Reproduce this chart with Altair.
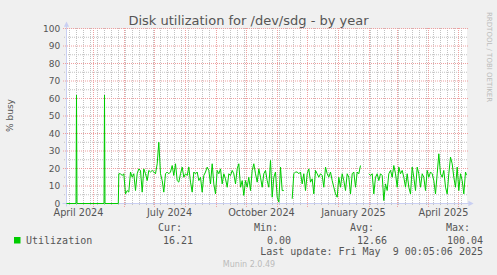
import altair as alt
import pandas as pd

# ---------------- data ----------------
START = "2024-04-04 00:05:06"   # left edge of the 400-day window
END = "2025-05-09 00:05:06"     # last update / right edge

# day offset from START, and % busy (None = gap in the data)
day = [
    0, 9.5, 10, 10.5, 37.5, 38, 38.5, 51.8,
    52.3, 54, 55.7, 57.3, 59, 60.7, 62.3, 64, 65.7, 67.3, 69, 70.7, 72.3, 74, 75.7, 77.3,
    79, 80.7, 82.3, 84, 85.7, 87.3, 89, 90.7, 92.3, 94, 95.7, 97.3, 99, 100.7, 102.3, 104,
    105.7, 107.3, 109, 110.7, 112.3, 114, 115.7, 117.3, 119, 120.7, 122.3, 124, 125.7, 127.3,
    129, 130.7, 132.3, 134, 135.7, 137.3, 139, 140.7, 142.3,
    144, 145.7, 147.3, 149, 150.7, 152.3, 154, 155.7, 157.3, 159, 160.7, 162.3, 164, 165.7,
    167.3, 169, 170.7, 172.3, 174, 175.7, 177.3, 179, 180.7, 182.3, 184, 185.7, 187.3, 189,
    190.7, 192.3, 194, 195.7, 197.3, 199, 200.7, 202.3, 204, 205.7, 207.3, 209, 210.7, 212.3,
    214, 215.7, 217.3,
    218,
    225.7, 227.3, 229, 230.7, 232.3, 234, 235.7, 237.3, 239, 240.7, 242.3, 244, 245.7, 247.3,
    249, 250.7, 252.3, 254, 255.7, 257.3, 259, 260.7, 262.3, 264, 265.7, 267.3, 269, 270.7,
    272.3, 274, 275.7, 277.3, 279, 280.7, 282.3, 284, 285.7, 287.3, 289, 290.7, 292.3, 294,
    298,
    302.3, 304, 305.7, 307.3, 309, 310.7, 312.3, 314, 315.7, 317.3, 319, 320.7, 322.3, 324,
    325.7, 327.3, 329, 330.7, 332.3, 334, 335.7, 337.3, 339, 340.7, 342.3, 344, 345.7, 347.3,
    349, 350.7, 352.3, 354, 355.7, 357.3, 359, 360.7, 362.3, 364, 365.7, 367.3, 369, 370.7,
    372.3, 374, 375.7, 377.3, 379, 380.7, 382.3, 384, 385.7, 387.3, 389, 390.7, 392.3, 394,
    395.7, 397.3, 399, 400,
]
util = [
    0, 0, 62, 0, 0, 62, 0, 0,
    17, 17, 16, 17, 5.5, 7.4, 6.5, 18, 15, 17, 7.4, 17, 19.8, 18.9, 6.5, 19.8,
    17, 13.1, 18.9, 18, 18.9, 18, 17, 22.7, 35, 17, 13.1, 6.5, 17, 18, 17, 18,
    21.7, 16, 22.7, 13.1, 12.2, 17, 20.8, 15, 17, 16, 20.8, 12.2, 6.5, 18,
    17, 18, 13.1, 15, 6.5, 16, 18, 20.8, 19,
    11.2, 22.7, 11.2, 5.5, 18.9, 17, 19.8, 11.2, 17, 14.1, 9.3, 17, 16, 18.9,
    17, 11.2, 19.8, 22.7, 9.3, 13.1, 4.6, 13.1, 9.3, 15, 7.4, 18.9, 22.7, 17,
    12.2, 19.8, 15, 9.3, 17, 18.9, 13.1, 9.3, 24.6, 3.6, 15, 18, 3.6, 0.8,
    20.8, 7.4, 7.4,
    None,
    2.7, 17, 18, 18, 17, 18, 11.2, 17, 7.4, 17, 19.8, 12.2, 14.1, 5.5,
    18.9, 17, 15, 17, 16, 9.3, 20.8, 17, 15, 18, 13.1, 9.3, 5.5, 3.6,
    15, 9.3, 17, 13.1, 7.4, 17, 15, 5.5, 17, 18, 9.3, 18, 17, 21.7,
    None,
    17, 16, 17, 5.5, 15, 17, 13.1, 17, 16, 1.7, 11.2, 7.4, 17, 18.9,
    15, 21.7, 17, 9.3, 20.8, 17, 18.9, 15, 9.3, 17, 9.3, 5.5, 20.8, 15,
    7.4, 20.8, 17, 9.3, 17, 15, 7.4, 18.9, 15, 18, 17, 13.1, 5.5, 17,
    28.4, 17, 15, 18.9, 9.3, 5.5, 17, 26.5, 22.7, 15, 9.3, 20.8, 7.4, 17,
    13.1, 5.5, 18, 16.2,
]
assert len(day) == len(util)

y_ticks = [0, 10, 20, 30, 40, 50, 60, 70, 80, 90, 100]
y_minor = [5, 15, 25, 35, 45, 55, 65, 75, 85, 95]
x_labels = ["April 2024", "July 2024", "October 2024", "January 2025", "April 2025"]
x_label_dates = ["2024-04-16", "2024-07-16", "2024-10-16", "2025-01-16", "2025-04-16"]

title_text = "Disk utilization for /dev/sdg - by year"
y_title = "% busy"
series_name = "Utilization"
stat_heads = ["Cur:", "Min:", "Avg:", "Max:"]
stat_vals = ["16.21", "0.00", "12.66", "100.04"]
last_update = "Last update: Fri May\u00a0 9 00:05:06 2025"
footer = "Munin 2.0.49"
watermark = "RRDTOOL / TOBI OETIKER"

# ---------------- derived tables ----------------
start = pd.Timestamp(START)
end = pd.Timestamp(END)
span = (end - start).total_seconds() / 86400.0


def off(ts):
    return [(t - start).total_seconds() / 86400.0 for t in ts]


rows, seg = [], 0
for d, v in zip(day, util):
    if v is None:
        seg += 1
        continue
    rows.append({"day": d, "util": v, "seg": seg})
line_df = pd.DataFrame(rows)

month_off = off(pd.date_range("2024-05-01", END, freq="MS"))
week_off = off(pd.date_range("2024-04-05", END, freq="W-SUN"))
xlab_df = pd.DataFrame({"d": off(pd.to_datetime(x_label_dates)), "t": x_labels})
ytick_df = pd.DataFrame({"v": y_ticks, "t": [str(v) for v in y_ticks]})

# ---------------- layout ----------------
W, H = 400, 175
PL, PT = 66.5, 28.5
TOTAL_W, TOTAL_H = 497, 275


def X(px):
    return px - PL


def Y(py):
    return py - PT


xs = alt.Scale(domain=[0, span], nice=False, zero=False)
ys = alt.Scale(domain=[0, 100], nice=False, zero=True)

MINOR = "#C2C2C2"
MAJOR = "#EEA0A0"
AXIS = "#C9CFF2"
FONT = "#555555"
GREEN = "#00CC00"
DOTS = [1, 1]

# dotted rules start on whole pixels so the dots stay crisp
minor_v = alt.Chart(pd.DataFrame({"d": week_off})).mark_rule(
    color=MINOR, strokeWidth=1, strokeDash=DOTS
).encode(x=alt.X("d:Q", scale=xs, axis=None), y=alt.value(-0.5), y2=alt.value(H + 1.5))

minor_h = alt.Chart(pd.DataFrame({"v": y_minor})).mark_rule(
    color=MINOR, strokeWidth=1, strokeDash=DOTS
).encode(y=alt.Y("v:Q", scale=ys, axis=None), x=alt.value(-2.5), x2=alt.value(W + 1.5))

major_v = alt.Chart(pd.DataFrame({"d": month_off})).mark_rule(
    color=MAJOR, strokeWidth=1, strokeDash=DOTS
).encode(x=alt.X("d:Q", scale=xs, axis=None), y=alt.value(-0.5), y2=alt.value(H + 3.5))

major_h = alt.Chart(pd.DataFrame({"v": y_ticks})).mark_rule(
    color=MAJOR, strokeWidth=1, strokeDash=DOTS
).encode(y=alt.Y("v:Q", scale=ys, axis=None), x=alt.value(-3.5), x2=alt.value(W + 1.5))

one = pd.DataFrame({"k": [0]})
axis_left = alt.Chart(one).mark_rule(color=AXIS, strokeWidth=1).encode(
    x=alt.value(0), y=alt.value(H + 3), y2=alt.value(-4)
)
axis_bottom = alt.Chart(one).mark_rule(color=AXIS, strokeWidth=1).encode(
    y=alt.value(H), x=alt.value(-4), x2=alt.value(W + 4)
)
arrow_up = alt.Chart(one).mark_point(
    shape="M-1,1L0,-1L1,1Z", filled=True, size=28, color=AXIS, opacity=1, strokeWidth=0
).encode(x=alt.value(0), y=alt.value(Y(24.2)))
arrow_right = alt.Chart(one).mark_point(
    shape="M-1,-1L1,0L-1,1Z", filled=True, size=28, color=AXIS, opacity=1, strokeWidth=0
).encode(x=alt.value(X(471)), y=alt.value(H))

data_line = alt.Chart(line_df).mark_line(color=GREEN, strokeWidth=1).encode(
    x=alt.X("day:Q", scale=xs, axis=None),
    y=alt.Y("util:Q", scale=ys, axis=None),
    detail="seg:N",
)

ytick_text = alt.Chart(ytick_df).mark_text(
    align="right", baseline="alphabetic", dy=3.2, font="DejaVu Sans", fontSize=9, color=FONT
).encode(x=alt.value(X(60.3)), y=alt.Y("v:Q", scale=ys, axis=None), text="t:N")

xlab_text = alt.Chart(xlab_df).mark_text(
    align="center", baseline="alphabetic", font="DejaVu Sans", fontSize=9.7, color=FONT
).encode(x=alt.X("d:Q", scale=xs, axis=None), y=alt.value(Y(216.3)), text="t:N")


def label(text, x, y, size=10, font="DejaVu Sans Mono", align="left", color=FONT, angle=0):
    return alt.Chart(pd.DataFrame({"t": [text]})).mark_text(
        font=font, fontSize=size, align=align, baseline="alphabetic", color=color, angle=angle
    ).encode(x=alt.value(X(x)), y=alt.value(Y(y)), text="t:N")


texts = [
    label(title_text, 248.5, 24.5, size=13, font="DejaVu Sans", align="center"),
    label(y_title, 12.8, 115.5, size=9, font="DejaVu Sans", align="center", angle=270),
    label(watermark, 486.8, 12, size=7, font="DejaVu Sans", align="left", color="#BBBBBB", angle=90),
    label(series_name, 26, 243.5),
    label(last_update, 483, 255, align="right"),
    label(footer, 249, 266.8, size=8, font="DejaVu Sans", align="center", color="#BBBBBB"),
]
for h, hx in zip(stat_heads, [182, 278, 374, 470]):
    texts.append(label(h, hx, 231, align="right"))
for v, vx in zip(stat_vals, [193, 291, 387, 483]):
    texts.append(label(v, vx, 243.5, align="right"))

legend_box = alt.Chart(one).mark_rect(color=GREEN).encode(
    x=alt.value(X(14)), x2=alt.value(X(20.5)), y=alt.value(Y(237)), y2=alt.value(Y(243.5))
)

chart = alt.layer(
    minor_v, minor_h, major_v, major_h, axis_left, axis_bottom, arrow_up, arrow_right,
    data_line, ytick_text, xlab_text, legend_box, *texts
).properties(
    width=W,
    height=H,
    padding={"left": PL, "top": PT, "right": TOTAL_W - W - PL, "bottom": TOTAL_H - H - PT},
    autosize=alt.AutoSizeParams(type="none"),
    background="#F0F0F0",
).configure_view(fill="white", stroke="transparent")

chart.save("out.html", embed_options={"renderer": "svg", "actions": False})
